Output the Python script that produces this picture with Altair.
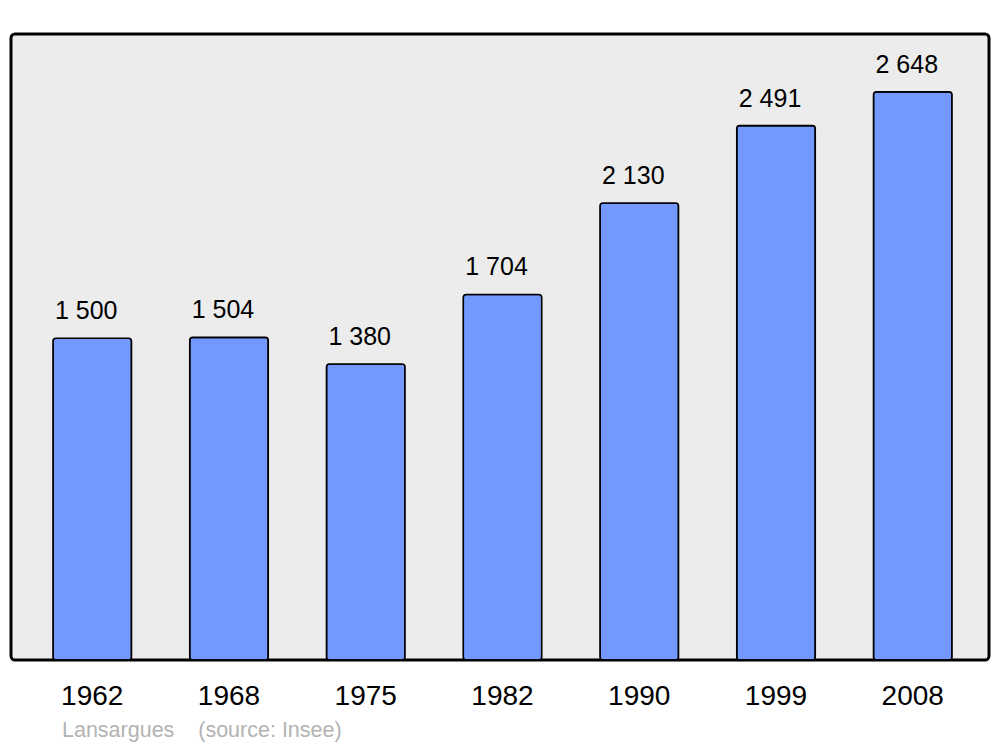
import altair as alt
import pandas as pd

years = ["1962", "1968", "1975", "1982", "1990", "1999", "2008"]
population = [1500, 1504, 1380, 1704, 2130, 2491, 2648]
footer_text = ["Lansargues\u00a0\u00a0\u00a0\u00a0(source: Insee)"]

df = pd.DataFrame({"year": years, "pop": population})
df["label"] = [f"{v:,}".replace(",", " ") for v in population]

x = alt.X("year:N", sort=years,
          scale=alt.Scale(range=[7.8, 975.2], paddingInner=0.426, paddingOuter=0.25),
          axis=alt.Axis(title=None, labelAngle=0, ticks=False, domain=False,
                        labelFontSize=28, labelFont="Liberation Sans", labelColor="black",
                        labelBaseline="alphabetic", labelPadding=44))
y = alt.Y("pop:Q", scale=alt.Scale(domain=[0, 2918], nice=False, zero=True), axis=None)

bars = alt.Chart(df).mark_bar(
    fill="#7399ff", stroke="black", strokeWidth=1.6,
    cornerRadius=3
).encode(x=x, y=y)

labels = alt.Chart(df).mark_text(
    baseline="alphabetic", dy=-19, dx=-6, fontSize=25, font="Liberation Sans", color="black"
).encode(x=alt.X("year:N", sort=years), y="pop:Q", text="label:N")

footer = alt.Chart(pd.DataFrame({"t": footer_text})).mark_text(
    align="left", baseline="alphabetic", fontSize=21.5, font="Liberation Sans", color="#b3b3b3"
).encode(x=alt.value(51), y=alt.value(702.5), text="t:N")

chart = alt.layer(bars, labels, footer).properties(
    width=978, height=626,
    autosize=alt.AutoSizeParams(type="none"),
    padding={"left": 3, "top": 26, "right": 3, "bottom": 85},
).configure_view(
    fill="#ececec", stroke="black", strokeWidth=3, cornerRadius=4
)

chart.save("out.html", embed_options={"renderer": "svg", "actions": False})
